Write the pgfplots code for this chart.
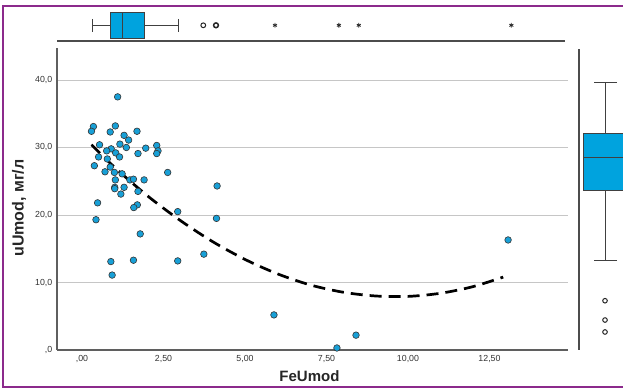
\documentclass[border=0pt]{standalone}
\usepackage{pgfplots}
\pgfplotsset{compat=1.18}
\usepgfplotslibrary{statistics}
\usepackage{fontspec}
\setmainfont{Liberation Sans}
\definecolor{spssblue}{RGB}{24,160,215}
\definecolor{boxblue}{RGB}{0,163,222}
\definecolor{frame}{RGB}{140,42,140}
\definecolor{axgray}{RGB}{95,95,95}
\definecolor{ticktext}{RGB}{50,50,50}
\begin{document}
\begin{tikzpicture}[x=1pt,y=1pt]
% main scatter axis
\begin{axis}[
  at={(57pt,40pt)}, anchor=south west,
  scale only axis, width=511pt, height=302pt,
  xmin=-0.767, xmax=14.908, ymin=0, ymax=44.74,
  axis x line*=bottom, axis y line*=left,
  axis line style={axgray, line width=1.3pt},
  xtick={0,2.5,5,7.5,10,12.5},
  xticklabels={{,00},{2,50},{5,00},{7,50},{10,00},{12,50}},
  ytick={0,10,20,30,40},
  yticklabels={{,0},{10,0},{20,0},{30,0},{40,0}},
  tick style={draw=none},
  major tick length=0pt,
  ticklabel style={font=\fontsize{8.8}{10}\selectfont, text=ticktext},
  yticklabel style={inner sep=0pt, xshift=-4.5pt},
  xticklabel style={inner sep=0pt, yshift=-5.5pt},
  ymajorgrids, grid style={gray!45, line width=0.9pt},
  xlabel={FeUmod},
  ylabel={uUmod, мг/л},
  xlabel style={at={(rel axis cs:0.494,-0.086)}, anchor=center, font=\bfseries\fontsize{15}{18}\selectfont, text=black!85},
  ylabel style={at={(rel axis cs:-0.0744,0.47)}, anchor=center, font=\bfseries\fontsize{16}{19}\selectfont, text=black!85},
  clip=false,
]
\addplot[black, line width=2.7pt, dash pattern=on 12pt off 7pt, smooth] coordinates {
(0.29,30.4) (1.08,26.7) (2.07,22.6) (3.07,19.0) (4.06,15.9) (5.05,13.3) (6.04,11.2) (7.03,9.6)
(8.02,8.55) (9.01,8.0) (10.0,7.94) (10.99,8.4) (11.98,9.37) (12.92,10.8)
};
\addplot[only marks, mark=*, mark size=3.3pt, mark options={fill=spssblue, draw=black!80, line width=0.6pt}] coordinates {
(1.093,37.5) (0.350,33.1) (0.290,32.4) (1.023,33.2) (0.865,32.3) (1.687,32.4)
(1.291,31.8) (1.430,31.1) (1.162,30.5) (1.360,30.0) (0.538,30.4)
(0.895,29.8) (0.756,29.5) (1.033,29.2) (1.717,29.1) (1.955,29.9) (2.292,30.3)
(2.331,29.5) (2.292,29.1) (0.508,28.6) (1.152,28.6) (0.776,28.3) (0.379,27.3)
(0.865,27.1) (0.706,26.4) (0.994,26.3) (1.231,26.1) (2.628,26.3) (1.469,25.2)
(1.578,25.3) (1.023,25.2) (1.905,25.2) (1.004,24.1) (1.291,24.1) (1.004,23.9)
(1.717,23.5) (1.192,23.1) (4.144,24.3) (0.478,21.8) (1.697,21.5) (1.588,21.1)
(2.936,20.5) (0.429,19.3) (4.125,19.5) (1.786,17.2) (3.738,14.2) (0.885,13.1)
(1.578,13.3) (2.936,13.2) (0.924,11.1) (5.888,5.2) (7.820,0.3) (8.405,2.2)
(13.07,16.3)
};
\end{axis}
% top boxplot
\begin{axis}[
  at={(57pt,349pt)}, anchor=south west,
  scale only axis, width=508pt, height=41pt,
  xmin=-0.767, xmax=14.816, ymin=0, ymax=41,
  axis x line*=bottom, axis y line=none,
  axis line style={black!70, line width=1.4pt},
  xtick=\empty, ytick=\empty,
  clip=false,
]
\addplot[draw=black!75, line width=0.9pt, fill=boxblue,
  boxplot prepared={lower whisker=0.31, lower quartile=0.865, median=1.23,
  upper quartile=1.905, upper whisker=2.955, draw position=15.7,
  box extend=26, whisker extend=13, draw direction=x,
  median/.style={black, line width=1.8pt}}] coordinates {};
\addplot[only marks, mark=o, mark size=2.4pt, black!85, line width=1pt] coordinates {(3.72,15.7)};
\addplot[only marks, mark=o, mark size=2.4pt, black!85, line width=1.5pt] coordinates {(4.11,15.7)};
\addplot[only marks, mark=asterisk, mark size=2.3pt, black!85, line width=0.8pt] coordinates {(5.92,15.7) (7.88,15.7) (8.49,15.7) (13.17,15.7)};
\end{axis}
% right boxplot
\begin{axis}[
  at={(579pt,40pt)}, anchor=south west,
  scale only axis, width=61pt, height=301pt,
  xmin=0, xmax=61, ymin=0, ymax=44.6,
  axis y line*=left, axis x line=none,
  axis line style={black!70, line width=1.4pt},
  xtick=\empty, ytick=\empty,
  clip=false,
]
\addplot[draw=black!75, line width=0.9pt, fill=boxblue,
  boxplot prepared={lower whisker=13.33, lower quartile=23.7, median=28.5,
  upper quartile=32.1, upper whisker=39.66, draw position=26.7,
  box extend=44.8, whisker extend=23, draw direction=y,
  median/.style={black, line width=1.8pt}}] coordinates {};
\addplot[only marks, mark=o, mark size=2.3pt, black!85, line width=1pt] coordinates {(26,7.3) (26,4.44) (26,2.67)};
\end{axis}
\draw[frame, line width=2pt] (640,384) -- (3.3,384) -- (3.3,3) -- (640,3);
\pgfresetboundingbox
\path (0,0) rectangle (623,390);
\end{tikzpicture}
\end{document}
